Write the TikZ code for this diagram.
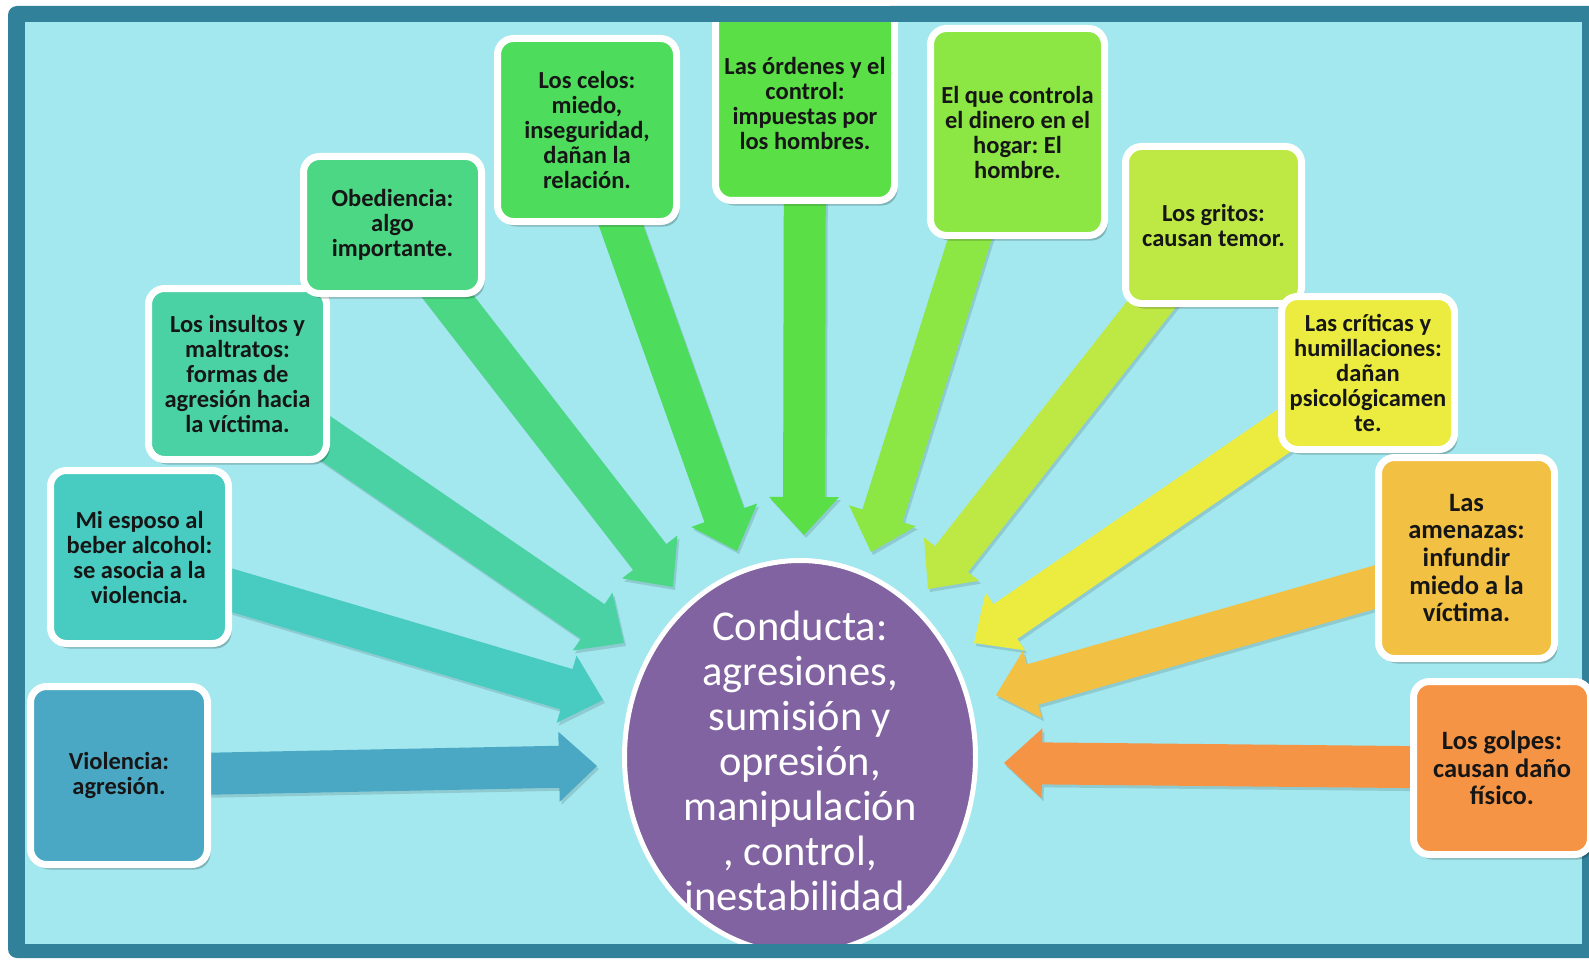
\documentclass[tikz,border=0pt]{standalone}
\usepackage{fontspec}
\setmainfont{Carlito}
\frenchspacing
\usetikzlibrary{calc,shapes.geometric,shadows}
\pgfdeclarelayer{bgl}\pgfdeclarelayer{arl}\pgfdeclarelayer{topl}
\pgfsetlayers{bgl,arl,main,topl}
\definecolor{framec}{RGB}{49,129,155}
\definecolor{bgc}{RGB}{162,232,238}
\definecolor{txt}{RGB}{22,22,22}
\definecolor{purp}{RGB}{128,99,160}
\definecolor{cA}{RGB}{75,168,196}
\definecolor{cB}{RGB}{72,203,192}
\definecolor{cC}{RGB}{74,210,164}
\definecolor{cD}{RGB}{76,215,132}
\definecolor{cE}{RGB}{77,220,92}
\definecolor{cF}{RGB}{90,224,70}
\definecolor{cG}{RGB}{140,230,68}
\definecolor{cH}{RGB}{190,233,68}
\definecolor{cI}{RGB}{236,236,64}
\definecolor{cJ}{RGB}{242,192,66}
\definecolor{cK}{RGB}{246,148,70}
\newcommand\fatarrow[3]{%
  \path ($(#3)!38pt!(#2)$) coordinate (hb);
  \fill[black,opacity=.12,transform canvas={shift={(2pt,-3pt)}}]
    ($(#2)!21pt!90:(#3)$) -- ($(hb)!21pt!90:(#3)$) -- ($(hb)!35pt!90:(#3)$) -- (#3)
    -- ($(hb)!35pt!-90:(#3)$) -- ($(hb)!21pt!-90:(#3)$) -- ($(#2)!21pt!-90:(#3)$) -- cycle;
  \fill[#1]
    ($(#2)!21pt!90:(#3)$) -- ($(hb)!21pt!90:(#3)$) -- ($(hb)!35pt!90:(#3)$) -- (#3)
    -- ($(hb)!35pt!-90:(#3)$) -- ($(hb)!21pt!-90:(#3)$) -- ($(#2)!21pt!-90:(#3)$) -- cycle;}
\begin{document}
\begin{tikzpicture}[x=1pt,y=-1pt,
  box/.style={draw=white,line width=7pt,rounded corners=16pt,inner sep=0pt,
    align=center,text=txt,font=\bfseries\fontsize{24.5}{25}\selectfont,
    drop shadow={shadow xshift=3pt,shadow yshift=-5pt,opacity=.22,fill=black}},
  bigtext/.style={font=\bfseries\fontsize{26.5}{27.7}\selectfont},
  centre/.style={ellipse,fill=purp,draw=white,line width=5pt,inner sep=0pt,
    minimum width=351pt,minimum height=393pt},
  centretext/.style={text=white,align=center,font=\fontsize{42.5}{45}\selectfont}]
\useasboundingbox (0,0) rectangle (1589,960);
\begin{pgfonlayer}{bgl}
  \fill[white] (0,0) rectangle (1589,960);
  \fill[framec,rounded corners=9pt] (8,6) rectangle (1620,958);
  \fill[bgc] (25,22) rectangle (1582,944);
\end{pgfonlayer}
% centre
\node[centre] (cen) at (800,757) {};
\node[centretext] (cent) at (800,760.5) {Conducta:\\agresiones,\\sumisión y\\opresión,\\manipulación\\, control,\\inestabilidad.};
% boxes
\node[box,fill=cA,minimum width=177pt,minimum height=178pt] (vio) at (119,775.5) {Violencia:\\agresión.};
\node[box,fill=cB,minimum width=178pt,minimum height=173pt] (mie) at (139.5,557) {Mi esposo al\\beber alcohol:\\se asocia a la\\violencia.};
\node[box,fill=cC,minimum width=178pt,minimum height=171pt] (ins) at (237.5,374) {Los insultos y\\maltratos:\\formas de\\agresión hacia\\la víctima.};
\node[box,fill=cD,minimum width=178pt,minimum height=137pt] (obe) at (392.5,225) {Obediencia:\\algo\\importante.};
\node[box,fill=cE,minimum width=179pt,minimum height=183pt] (cel) at (587,130) {Los celos:\\miedo,\\inseguridad,\\dañan la\\relación.};
\node[box,fill=cF,minimum width=179pt,minimum height=195pt] (ord) at (805,103) {Las órdenes y el\\control:\\impuestas por\\los hombres.};
\node[box,fill=cG,minimum width=174pt,minimum height=207pt] (elq) at (1017.5,132) {El que controla\\el dinero en el\\hogar: El\\hombre.};
\node[box,fill=cH,minimum width=176pt,minimum height=157pt] (gri) at (1213.5,225) {Los gritos:\\causan temor.};
\node[box,fill=cI,minimum width=173pt,minimum height=153pt] (cri) at (1368,373) {Las críticas y\\humillaciones:\\dañan\\psicológicamen\\te.};
\node[box,bigtext,fill=cJ,minimum width=176pt,minimum height=201pt] (ame) at (1466.5,558) {Las\\amenazas:\\infundir\\miedo a la\\víctima.};
\node[box,bigtext,fill=cK,minimum width=177pt,minimum height=173pt] (gol) at (1502,768) {Los golpes:\\causan daño\\físico.};
% arrow ends
\coordinate (vio-s) at (vio.center);
\coordinate (mie-s) at ($(mie.center)+(0,6)$);
\coordinate (ins-s) at ($(ins.center)+(0,4)$);
\coordinate (obe-s) at (obe.center);
\coordinate (cel-s) at (cel.center);
\coordinate (ord-s) at (ord.center);
\coordinate (elq-s) at ($(elq.center)+(-14,0)$);
\coordinate (gri-s) at (gri.center);
\coordinate (cri-s) at (cri.center);
\coordinate (ame-s) at ($(ame.center)+(0,3)$);
\coordinate (gol-s) at (gol.center);
\coordinate (vio-t) at (597,766);
\coordinate (mie-t) at (603,700);
\coordinate (ins-t) at (624,643);
\coordinate (obe-t) at (673,587);
\coordinate (cel-t) at (737,551);
\coordinate (ord-t) at (804,535);
\coordinate (elq-t) at (871,552);
\coordinate (gri-t) at (928,589);
\coordinate (cri-t) at (974,643);
\coordinate (ame-t) at (996,695);
\coordinate (gol-t) at (1004,763);
\begin{pgfonlayer}{arl}
  \fatarrow{cA}{vio-s}{vio-t}
  \fatarrow{cB}{mie-s}{mie-t}
  \fatarrow{cC}{ins-s}{ins-t}
  \fatarrow{cD}{obe-s}{obe-t}
  \fatarrow{cE}{cel-s}{cel-t}
  \fatarrow{cF}{ord-s}{ord-t}
  \fatarrow{cG}{elq-s}{elq-t}
  \fatarrow{cH}{gri-s}{gri-t}
  \fatarrow{cI}{cri-s}{cri-t}
  \fatarrow{cJ}{ame-s}{ame-t}
  \fatarrow{cK}{gol-s}{gol-t}
\end{pgfonlayer}
\begin{pgfonlayer}{topl}
  \fill[framec] (25,6) rectangle (1582,22);
  \fill[framec] (25,944) rectangle (1582,958);
\end{pgfonlayer}
\end{tikzpicture}
\end{document}
